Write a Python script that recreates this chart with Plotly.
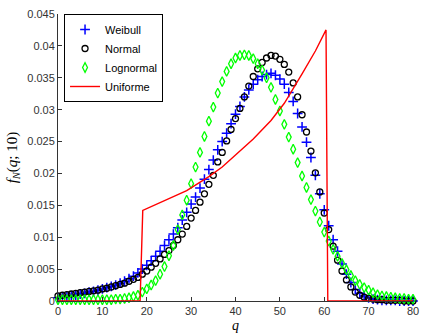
import plotly.graph_objects as go

q = list(range(0, 81))

weibull = [0.0005, 0.0006, 0.0007, 0.0008, 0.0009, 0.0011, 0.0012, 0.0014, 0.0015, 0.0017,
           0.0019, 0.0021, 0.0023, 0.0025, 0.0028, 0.0031, 0.0035, 0.0039, 0.0044, 0.0050,
           0.0056, 0.0063, 0.0070, 0.0078, 0.0087, 0.0096, 0.0105, 0.0115, 0.0127, 0.0139,
           0.0152, 0.0163, 0.0177, 0.0191, 0.0206, 0.0221, 0.0237, 0.0250, 0.0263, 0.0278,
           0.0293, 0.0305, 0.0320, 0.0331, 0.0340, 0.0347, 0.0352, 0.0355, 0.0357, 0.0354,
           0.0348, 0.0340, 0.0327, 0.0313, 0.0294, 0.0273, 0.0249, 0.0225, 0.0197, 0.0168,
           0.0143, 0.0118, 0.0096, 0.0078, 0.0058, 0.0042, 0.0029, 0.0018, 0.0012, 0.0008,
           0.0005, 0.0003, 0.0002, 0.0001, 0.0001, 0.0001, 0.0001, 0.0000, 0.0000, 0.0000,
           0.0000]

normal = [0.0008, 0.0009, 0.0010, 0.0011, 0.0012, 0.0013, 0.0014, 0.0015, 0.0016, 0.0017,
          0.0019, 0.0020, 0.0022, 0.0024, 0.0026, 0.0028, 0.0031, 0.0034, 0.0037, 0.0042,
          0.0047, 0.0053, 0.0059, 0.0066, 0.0073, 0.0079, 0.0087, 0.0096, 0.0105, 0.0117,
          0.0130, 0.0142, 0.0155, 0.0168, 0.0183, 0.0197, 0.0218, 0.0233, 0.0251, 0.0269,
          0.0286, 0.0302, 0.0320, 0.0337, 0.0352, 0.0364, 0.0374, 0.0381, 0.0385, 0.0384,
          0.0379, 0.0371, 0.0359, 0.0342, 0.0320, 0.0292, 0.0265, 0.0235, 0.0201, 0.0171,
          0.0138, 0.0112, 0.0086, 0.0064, 0.0047, 0.0033, 0.0022, 0.0014, 0.0009, 0.0006,
          0.0004, 0.0003, 0.0002, 0.0002, 0.0001, 0.0001, 0.0001, 0.0001, 0.0000, 0.0000,
          0.0000]

lognormal = [0.0002, 0.0002, 0.0002, 0.0002, 0.0002, 0.0002, 0.0002, 0.0002, 0.0002, 0.0002,
             0.0002, 0.0002, 0.0002, 0.0003, 0.0003, 0.0004, 0.0005, 0.0007, 0.0009, 0.0014,
             0.0019, 0.0025, 0.0032, 0.0042, 0.0054, 0.0071, 0.0087, 0.0112, 0.0135, 0.0158,
             0.0184, 0.0210, 0.0233, 0.0258, 0.0282, 0.0304, 0.0326, 0.0344, 0.0360, 0.0372,
             0.0381, 0.0385, 0.0386, 0.0385, 0.0380, 0.0372, 0.0362, 0.0350, 0.0335, 0.0316,
             0.0298, 0.0277, 0.0257, 0.0238, 0.0217, 0.0196, 0.0178, 0.0159, 0.0141, 0.0124,
             0.0108, 0.0094, 0.0081, 0.0070, 0.0059, 0.0049, 0.0040, 0.0032, 0.0026, 0.0021,
             0.0017, 0.0013, 0.0010, 0.0008, 0.0007, 0.0006, 0.0005, 0.0004, 0.0004, 0.0003,
             0.0003]

uni_q = [0, 18.5, 19.1, 29, 34, 37, 40, 44, 48, 51, 55, 58, 60.4, 60.8, 80]
uni_v = [0, 0, 0.0142, 0.0173, 0.0195, 0.0210, 0.0229, 0.0254, 0.0283, 0.0310,
         0.0356, 0.0392, 0.0425, 0, 0]

x_ticks = [0, 10, 20, 30, 40, 50, 60, 70, 80]
y_ticks = [0, 0.005, 0.01, 0.015, 0.02, 0.025, 0.03, 0.035, 0.04, 0.045]
y_ticktext = ["0", "0.005", "0.01", "0.015", "0.02", "0.025", "0.03", "0.035", "0.04", "0.045"]

fig = go.Figure()
fig.add_trace(go.Scatter(x=q, y=weibull, mode="markers", name="Weibull", cliponaxis=False,
                         marker=dict(symbol="cross-thin-open", size=7, color="#0000ff",
                                     line=dict(color="#0000ff", width=1.5))))
fig.add_trace(go.Scatter(x=q, y=normal, mode="markers", name="Normal", cliponaxis=False,
                         marker=dict(symbol="circle-open", size=6, color="#000000",
                                     line=dict(color="#000000", width=1.3))))
fig.add_trace(go.Scatter(x=q, y=lognormal, mode="markers", name="Lognormal", cliponaxis=False,
                         marker=dict(symbol="diamond-tall-open", size=7, color="#00ff00",
                                     line=dict(color="#00ff00", width=1.3))))
fig.add_trace(go.Scatter(x=uni_q, y=uni_v, mode="lines", name="Uniforme", cliponaxis=False,
                         line=dict(color="#ff0000", width=1.4)))

axis_common = dict(showgrid=False, zeroline=False, showline=True, linecolor="#333333",
                   linewidth=1, ticks="inside", ticklen=4, tickcolor="#333333",
                   ticklabeloverflow="allow",
                   tickfont=dict(family="Liberation Sans, Arial", size=11, color="#333333"))

fig.update_layout(
    width=422, height=333,
    margin=dict(l=58, r=3, t=14, b=30),
    plot_bgcolor="white", paper_bgcolor="white",
    xaxis=dict(range=[0, 80], tickvals=x_ticks, ticktext=[str(t) for t in x_ticks],
               title=dict(text="<i>q</i>", standoff=3,
                          font=dict(family="Liberation Serif, Times New Roman", size=14, color="#000")),
               **axis_common),
    yaxis=dict(range=[0, 0.045], tickvals=y_ticks, ticktext=y_ticktext,
               title=dict(text="<i>f<sub>N</sub></i>(<i>q</i>; 10)", standoff=6,
                          font=dict(family="Liberation Serif, Times New Roman", size=15, color="#000")),
               **axis_common),
    legend=dict(x=0.017, y=1.0, xanchor="left", yanchor="top",
                bgcolor="white", bordercolor="#000000", borderwidth=1,
                font=dict(family="Liberation Sans, Arial", size=11, color="#000"),
                tracegroupgap=0, itemwidth=30),
    showlegend=True,
)

fig.write_html("out.html")
